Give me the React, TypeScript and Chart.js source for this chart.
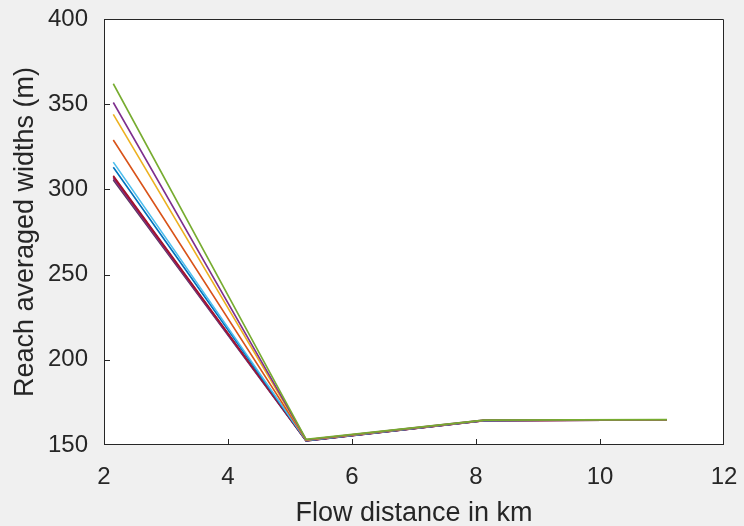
import React, { useEffect, useRef } from "react";
import { Chart, registerables } from "chart.js";

Chart.register(...registerables);

// Flow distance (km) of each reach centre
const distances = [2.15, 5.26, 8.13, 11.08];

// Reach averaged widths (m) for each run (first run is drawn on top)
const run1 = [362, 153.3, 164.6, 164.9];
const run2 = [351, 153.1, 164.6, 164.8];
const run3 = [344, 153.0, 164.5, 164.8];
const run4 = [329, 152.8, 164.5, 164.8];
const run5 = [316, 152.7, 164.4, 164.8];
const run6 = [313, 152.6, 164.4, 164.8];
const run7 = [308, 152.5, 164.4, 164.7];
const run8 = [307.5, 152.5, 164.3, 164.7];
const run9 = [306.5, 152.4, 164.3, 164.7];
const run10 = [305.5, 152.4, 164.3, 164.7];

const runs = [run1, run2, run3, run4, run5, run6, run7, run8, run9, run10];
const runColors = [
  "#77AC30", "#7E2F8E", "#EDB120", "#D95319", "#4DBEEE",
  "#0072BD", "#A2142F", "#A2142F", "#7E2F8E", "#5a3a5a",
];

const xTicks = [2, 4, 6, 8, 10, 12];
const yTicks = [150, 200, 250, 300, 350, 400];
const xTitle = "Flow distance in km";
const yTitle = "Reach averaged widths (m)";

const FONT = '"Liberation Sans", Arial, Helvetica, sans-serif';
const TEXT = "#262626";

const framePlugin = {
  id: "matlabFrame",
  beforeDraw(chart: any) {
    const { ctx, chartArea: a } = chart;
    ctx.save();
    ctx.fillStyle = "#f0f0f0";
    ctx.fillRect(0, 0, chart.width, chart.height);
    ctx.fillStyle = "#ffffff";
    ctx.fillRect(a.left, a.top, a.right - a.left, a.bottom - a.top);
    ctx.restore();
  },
  afterDraw(chart: any) {
    const { ctx, chartArea: a, scales } = chart;
    ctx.save();
    ctx.strokeStyle = TEXT;
    ctx.lineWidth = 1;
    ctx.beginPath();
    ctx.rect(a.left + 0.5, a.top + 0.5, a.right - a.left - 1, a.bottom - a.top - 1);
    ctx.stroke();
    const tl = 6;
    ctx.beginPath();
    for (const v of xTicks) {
      const px = Math.min(Math.round(scales.x.getPixelForValue(v)), a.right - 1) + 0.5;
      ctx.moveTo(px, a.bottom);
      ctx.lineTo(px, a.bottom - tl);
    }
    for (const v of yTicks) {
      const py = Math.min(Math.round(scales.y.getPixelForValue(v)), a.bottom - 1) + 0.5;
      ctx.moveTo(a.left, py);
      ctx.lineTo(a.left + tl, py);
    }
    ctx.stroke();
    // axis titles, centred on the plot area
    ctx.fillStyle = TEXT;
    ctx.font = `27px ${FONT}`;
    ctx.textAlign = "center";
    ctx.textBaseline = "alphabetic";
    ctx.fillText(xTitle, (a.left + a.right) / 2, 521);
    ctx.translate(33, (a.top + a.bottom) / 2);
    ctx.rotate(-Math.PI / 2);
    ctx.fillText(yTitle, 0, 0);
    ctx.restore();
  },
};

export default function App() {
  const ref = useRef<HTMLCanvasElement | null>(null);
  useEffect(() => {
    document.body.style.margin = "0";
    document.body.style.background = "#f0f0f0";
    const canvas = ref.current!;
    const chart = new Chart(canvas, {
      type: "line",
      data: {
        datasets: runs.map((r, i) => ({
          label: `Run ${i + 1}`,
          data: r.map((y, j) => ({ x: distances[j], y })),
          borderColor: runColors[i],
          borderWidth: 1.6,
          pointRadius: 0,
          fill: false,
          tension: 0,
        })),
      },
      options: {
        animation: false,
        responsive: false,
        maintainAspectRatio: false,
        layout: { autoPadding: false, padding: { left: 0, top: 19, right: 20, bottom: 0 } },
        plugins: { legend: { display: false }, tooltip: { enabled: false } },
        scales: {
          x: {
            type: "linear",
            min: 2,
            max: 12,
            afterBuildTicks: (s: any) => { s.ticks = xTicks.map((v) => ({ value: v })); },
            afterFit: (s: any) => {
              s.height = 81;
              s.paddingLeft = 0;
              s.paddingRight = 0;
            },
            grid: { display: false, drawTicks: false },
            border: { display: false },
            ticks: { color: TEXT, font: { family: FONT, size: 24 }, padding: 18, maxRotation: 0 },
          },
          y: {
            type: "linear",
            min: 150,
            max: 400,
            afterBuildTicks: (s: any) => { s.ticks = yTicks.map((v) => ({ value: v })); },
            afterFit: (s: any) => {
              s.width = 104;
              s.paddingTop = 0;
              s.paddingBottom = 0;
            },
            grid: { display: false, drawTicks: false },
            border: { display: false },
            ticks: { color: TEXT, font: { family: FONT, size: 24 }, padding: 16 },
          },
        },
      },
      plugins: [framePlugin],
    });
    return () => chart.destroy();
  }, []);
  return <canvas ref={ref} width={744} height={526} style={{ display: "block" }} />;
}
